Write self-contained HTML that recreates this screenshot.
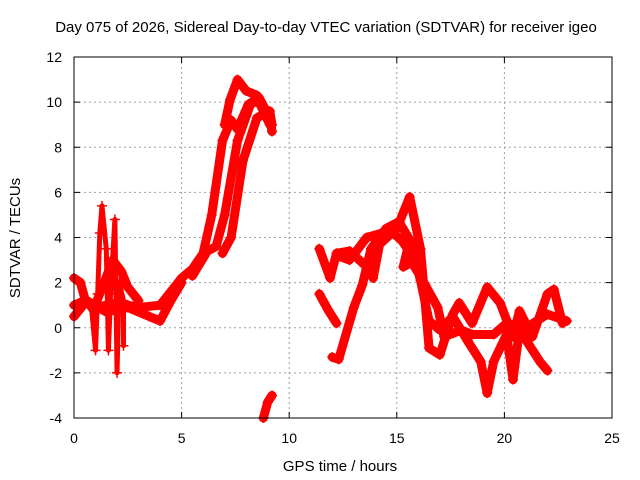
<!DOCTYPE html>
<html><head><meta charset="utf-8"><style>
body{margin:0;background:#fff}
svg{display:block;font-family:"Liberation Sans",sans-serif}
</style></head><body>
<svg id="c" width="640" height="480">
<text x="326" y="32" font-size="15" text-anchor="middle">Day 075 of 2026, Sidereal Day-to-day VTEC variation (SDTVAR) for receiver igeo</text>
<text x="340" y="471" font-size="15" text-anchor="middle">GPS time / hours</text>
<text transform="translate(20,238) rotate(-90)" font-size="15" text-anchor="middle">SDTVAR / TECUs</text>
<g id="grid"></g><g id="marks"></g>
<rect x="74" y="57" width="538" height="361" fill="none" stroke="#000" stroke-width="1"/>
</svg>
<script>
const xTicks=[0,5,10,15,20,25];
const yTicks=[-4,-2,0,2,4,6,8,10,12];
const trackMainL=[[0,1.0],[0.5,1.2],[1,0.9],[2,1.1],[3,0.9],[4,1.0],[4.5,1.6],[5,2.2],[5.5,2.6],[6,3.3],[6.4,5],[6.9,8.3],[7.3,9.2],[7.6,8.8],[8.1,9.9],[8.6,10.2],[9.1,9.3],[9.2,8.7]];
const trackTop=[[7.0,9.0],[7.25,10.1],[7.6,11.0],[8.0,10.5],[8.5,10.3],[8.7,9.8],[9.1,9.0]];
const trackMid=[[5.5,2.3],[6.2,3.4],[6.6,3.6],[7.0,5],[7.6,8.3],[8.2,9.9],[8.6,10.1]];
const trackRight=[[6.9,3.3],[7.3,4],[7.85,7.4],[8.5,9.3],[9.1,9.6],[9.2,9.0]];
const trackLow=[[8.8,-4],[9.0,-3.3],[9.2,-3]];
const trackBase=[[0,0.5],[0.6,1.2],[1.5,0.7],[2.5,0.9],[3.5,0.5],[4,0.3],[4.5,1.2],[5,2.0]];
const trackEarly=[[0,2.2],[0.3,2.0],[0.5,1.3],[0.9,0.8],[1.4,2.0],[1.8,3.0],[2.2,2.5],[2.5,1.8],[3,1.2]];
const trackSpikes=[[0.8,1.0],[1.0,-1.0],[1.1,1.5],[1.2,4.2],[1.3,5.4],[1.5,3.5],[1.6,-1.0],[1.7,1.5],[1.9,4.8],[2.0,-2.0],[2.1,2.0],[2.3,1.2],[2.3,-0.8]];
const trackA1=[[11.4,3.5],[11.9,2.2],[12.2,3.3],[12.8,3.4],[13.6,2.7],[13.9,2.2],[14.2,3.7],[15.0,4.4],[15.6,5.8],[16.1,3.5],[16.5,-0.9],[17.0,-1.2],[17.6,0.6],[17.9,1.1],[18.5,0.2],[19.2,1.8],[19.8,1.1],[20.4,-0.4],[20.7,0.75],[21.3,-0.4],[22.0,1.5],[22.3,1.7],[22.7,0.2]];
const trackA2=[[11.4,1.5],[11.8,0.8],[12.2,0.2]];
const trackA3=[[12.0,-1.3],[12.3,-1.4],[13.0,0.9],[13.4,1.9],[13.8,3.5],[14.5,4.4],[15.1,4.7],[15.6,3.9],[16.1,2.1],[16.5,0.3],[17.0,-0.1],[17.6,0.5],[18.3,-0.6],[18.9,-1.5],[19.2,-2.9],[19.5,-1.5],[20.1,-0.3],[20.4,-2.3],[20.7,-0.1],[21.65,-1.5],[22.0,-1.9]];
const trackA4=[[12.2,3.2],[12.8,3.0],[13.6,4.0],[14.7,4.3],[15.2,3.9],[15.5,3.5],[15.3,2.7],[15.7,2.9],[16.2,2.1],[16.9,0.9],[17.2,-0.4],[18.0,-0.1],[18.5,-0.3],[19.5,-0.3],[20.1,0.2],[21.0,0],[22.0,0.6],[22.9,0.3]];
const tracks=[trackMainL,trackTop,trackMid,trackRight,trackLow,trackBase,trackEarly,trackA1,trackA2,trackA3,trackA4];
const NS="http://www.w3.org/2000/svg";
const X0=74,X1=612,Y0=418,Y1=57;
function sx(v){return X0+(v-0)/(25-0)*(X1-X0);}
function sy(v){return Y0-(v+4)/(16)*(Y0-Y1);}
const grid=document.getElementById('grid'),marks=document.getElementById('marks');
function mk(tag,at,par){const e=document.createElementNS(NS,tag);for(const k in at)e.setAttribute(k,at[k]);par.appendChild(e);return e;}
xTicks.forEach(t=>{const x=sx(t);
 if(t>0&&t<25){const g=mk('line',{x1:x,x2:x,y1:Y1,y2:Y0,stroke:'#a0a0a0','stroke-dasharray':'2,3'},grid);
 
 }
 const tk=mk('path',{d:`M${x},${Y0}v-6M${x},${Y1}v6`,stroke:'#000'},grid);
 
 
 const l=mk('text',{x:x,y:443,'font-size':14,'text-anchor':'middle'},grid);l.textContent=t;
 
 });
yTicks.forEach(t=>{const y=sy(t);
 if(t>-4&&t<12){const g=mk('line',{x1:X0,x2:X1,y1:y,y2:y,stroke:'#a0a0a0','stroke-dasharray':'2,3'},grid);
 
 }
 const tk=mk('path',{d:`M${X0},${y}h6M${X1},${y}h-6`,stroke:'#000'},grid);
 
 
 const l=mk('text',{x:62,y:y+5,'font-size':14,'text-anchor':'end'},grid);l.textContent=t;
 
 });
function draw(tr,w){const pts=tr.map(p=>sx(p[0])+','+sy(p[1])).join(' ');
 const pl=mk('polyline',{points:pts,fill:'none',stroke:'#ff0000','stroke-width':w,'stroke-linejoin':'round','stroke-linecap':'round'},marks);
 
 
 tr.forEach(p=>{const x=sx(p[0]),y=sy(p[1]);
  const m=mk('path',{d:`M${x-5},${y}h10M${x},${y-5}v10`,stroke:'#ff0000','stroke-width':1.5},marks);
  
  });}
tracks.forEach(t=>draw(t,9));
draw(trackSpikes,5);
</script>
</body></html>
